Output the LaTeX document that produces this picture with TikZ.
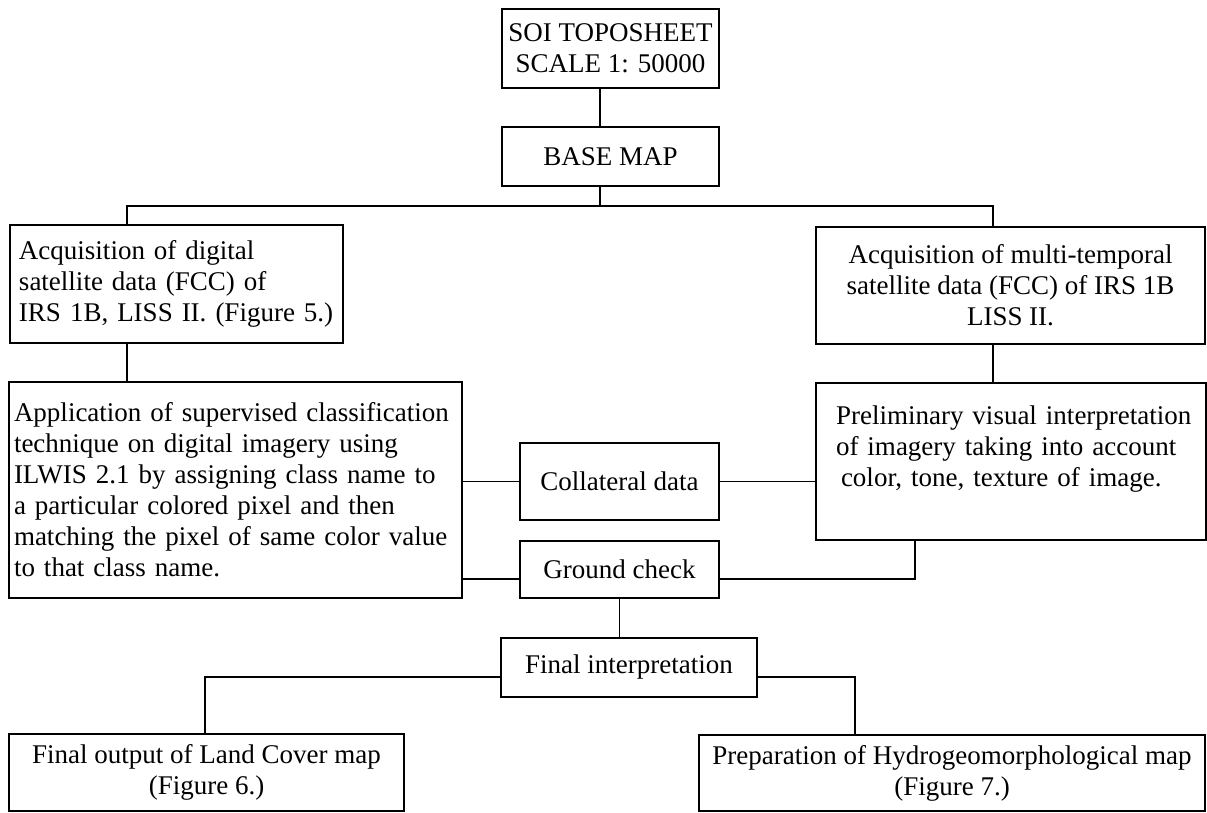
\documentclass[tikz,border=0pt]{standalone}
\usepackage{fontspec}
\setmainfont{Liberation Serif}
\usetikzlibrary{calc}
\newcommand\boxfont{\fontsize{27}{31}\selectfont\hyphenpenalty=10000\exhyphenpenalty=10000}
\tikzset{
  box/.style={draw, line width=1.6pt, inner sep=0pt, outer sep=0pt, font=\boxfont, align=center},
  leftbox/.style={box, align=left},
  conn/.style={line width=1.6pt, line cap=rect}
}
\begin{document}
\begin{tikzpicture}[x=1pt, y=-1pt]
\useasboundingbox[fill=white] (0,0) rectangle (1207,813);

% boxes (centres, widths and heights in pixel units)
\node[box, minimum width=217pt, minimum height=79pt] (soi) at (610.5,48.5) {SOI TOPOSHEET\\SCALE 1: 50000};
\node[box, minimum width=217pt, minimum height=59pt] (base) at (610.5,156.5) {BASE MAP};
\node[leftbox, text width=315pt, inner xsep=9pt, minimum height=118pt] (acqL) at (176.5,284) {Acquisition of digital\\satellite data (FCC) of\\IRS 1B, LISS II. (Figure 5.)};
\node[box, minimum width=389pt, minimum height=117pt] (acqR) at (1010.5,285.5) {Acquisition of multi-temporal\\satellite data (FCC) of IRS 1B\\LISS II.};
\node[leftbox, text width=443pt, inner xsep=5pt, minimum height=216pt] (app) at (235.5,490) {Application of supervised classification\\technique on digital imagery using\\ILWIS 2.1 by assigning class name to\\a particular colored pixel and then\\matching the pixel of same color value\\to that class name.};
\node[leftbox, text width=370pt, inner xsep=10pt, minimum height=157pt] (prel) at (1011,461.5) {\hspace*{10pt}Preliminary visual interpretation\\\hspace*{10pt}of imagery taking into account\\\hspace*{15pt}color, tone, texture of image.\\\mbox{}};
\node[box, minimum width=199pt, minimum height=77pt] (coll) at (619.5,481.5) {Collateral data};
\node[box, minimum width=199pt, minimum height=57pt] (gc) at (619.5,569.5) {Ground check};
\node[box, minimum width=256pt, minimum height=59pt] (fin) at (629,667.5) {Final interpretation};
\node[box, minimum width=395pt, minimum height=77pt] (land) at (206.5,772.5) {Final output of Land Cover map\\(Figure 6.)};
\node[box, minimum width=506pt, minimum height=76pt] (hydro) at (952,773) {Preparation of Hydrogeomorphological map\\(Figure 7.)};

% junction coordinates
\coordinate (j) at (600,206);
\coordinate (busL) at (127,206);
\coordinate (busR) at (993,206);
\coordinate (gk) at (915,579);
\coordinate (fl) at (205,677);
\coordinate (fh) at (855,677);

% connectors
\draw[conn] (soi.south -| j) -- (base.north -| j);
\draw[conn] (base.south -| j) -- (j);
\draw[conn] (acqL.north -| busL) -- (busL) -- (busR) -- (acqR.north -| busR);
\draw[conn] (acqL.south -| busL) -- (app.north -| busL);
\draw[conn] (acqR.south -| busR) -- (prel.north -| busR);
\draw[conn] (app.east |- coll.center) -- (coll.west);
\draw[conn] (coll.east) -- (prel.west |- coll.center);
\draw[conn] (app.east |- gk) -- (gc.west |- gk);
\draw[conn] (gc.east |- gk) -- (gk) -- (prel.south -| gk);
\draw[conn] (gc.south) -- (fin.north -| gc.south);
\draw[conn] (fin.west |- fl) -- (fl) -- (land.north -| fl);
\draw[conn] (fin.east |- fh) -- (fh) -- (hydro.north -| fh);
\end{tikzpicture}
\end{document}
